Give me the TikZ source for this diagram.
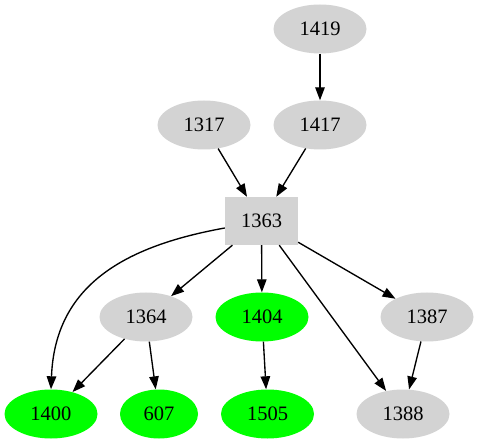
\documentclass[tikz,border=0pt]{standalone}
\usepackage{fontspec}
\setmainfont{Liberation Serif}
\usetikzlibrary{shapes.geometric,arrows.meta}
\definecolor{gv}{RGB}{211,211,211}
\definecolor{gg}{RGB}{0,255,0}
\begin{document}
\begin{tikzpicture}[x=1pt,y=-1pt,
  gnode/.style={ellipse,fill=gv,draw=none,minimum width=93pt,minimum height=49pt,inner sep=0pt,font=\fontsize{20.5}{23}\selectfont},
  grnode/.style={gnode,fill=gg},
  boxnode/.style={rectangle,fill=gv,draw=none,minimum width=73pt,minimum height=48pt,inner sep=0pt,font=\fontsize{20.5}{23}\selectfont},
  edge/.style={draw=black,line width=1.35pt,-{Triangle[length=13pt,width=9.5pt]}}]
\useasboundingbox (0,0) rectangle (479,443);
\node[gnode] (n1419) at (320,29) {1419};
\node[gnode] (n1317) at (204,125) {1317};
\node[gnode] (n1417) at (320,125) {1417};
\node[boxnode] (n1363) at (261.5,221) {1363};
\node[gnode] (n1364) at (146,317) {1364};
\node[grnode] (n1404) at (262,317) {1404};
\node[gnode] (n1387) at (427,317) {1387};
\node[grnode, minimum width=93pt] (n1400) at (51,414) {1400};
\node[grnode, minimum width=78pt] (n607) at (159,414) {607};
\node[grnode] (n1505) at (267.5,414) {1505};
\node[gnode] (n1388) at (403,414) {1388};
\draw[edge] (n1419) -- (n1417);
\draw[edge] (n1317) -- (n1363);
\draw[edge] (n1417) -- (n1363);
\draw[edge] (n1363.west |- 0,228) .. controls (125,246) and (55,285) .. (n1400.north);
\draw[edge] (n1363) -- (n1364);
\draw[edge] (n1363) -- (n1404);
\draw[edge] (n1363) -- (n1388);
\draw[edge] (n1363) -- (n1387);
\draw[edge] (n1364) -- (n1400);
\draw[edge] (n1364) -- (n607);
\draw[edge] (n1404) -- (n1505);
\draw[edge] (n1387) -- (n1388);
\end{tikzpicture}
\end{document}
